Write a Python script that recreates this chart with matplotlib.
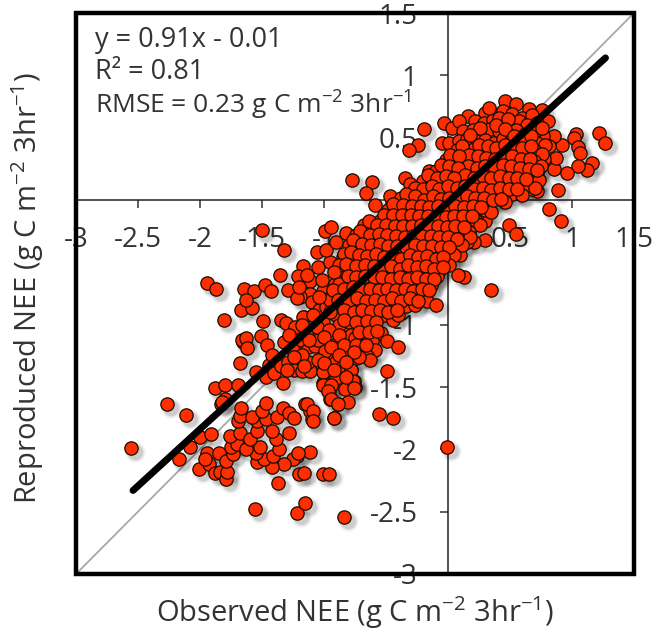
import matplotlib
matplotlib.use("Agg")
import matplotlib.pyplot as plt
from matplotlib.transforms import ScaledTranslation
from matplotlib.patches import Rectangle

plt.rcParams['font.family'] = ['Open Sans', 'DejaVu Sans']
plt.rcParams['axes.unicode_minus'] = False
plt.rcParams['mathtext.default'] = 'regular'

x_ticks = [-3, -2.5, -2, -1.5, -1, -0.5, 0, 0.5, 1, 1.5]
x_tick_labels = ['-3', '-2.5', '-2', '-1.5', '-1', '-0.5', '', '0.5', '1', '1.5']
y_ticks = [-3, -2.5, -2, -1.5, -1, -0.5, 0, 0.5, 1, 1.5]
y_tick_labels = ['-3', '-2.5', '-2', '-1.5', '-1', '-0.5', '', '0.5', '1', '1.5']
fit_x = [-2.54, 1.27]
fit_y = [-2.33, 1.14]
one_to_one = [-3, 1.5]

lower_cluster = [
 (-2.556,-1.99),(-2.266,-1.64),(-2.11,-1.725),(-2.17,-2.08),(-2.08,-1.98),(-2.0,-1.90),(-1.91,-1.88),
 (-2.01,-2.16),(-1.93,-2.12),(-1.94,-2.03),(-1.85,-2.03),(-1.96,-2.08),(-1.88,-2.19),(-1.84,-2.18),
 (-1.79,-2.24),(-1.78,-2.18),(-1.79,-2.09),(-1.73,-2.04),(-1.75,-1.98),(-1.70,-1.96),(-1.76,-1.89),
 (-1.68,-1.87),(-1.69,-1.77),(-1.68,-1.73),(-1.67,-1.67),(-1.56,-2.48),(-1.22,-2.51),(-1.15,-2.43),
 (-0.84,-2.54),(-1.375,-2.27),(-1.20,-2.20),(-1.16,-2.19),(-1.01,-2.20),(-0.96,-2.20),(-1.11,-2.02),
 (-1.22,-2.05),(-1.25,-2.08),(-1.32,-2.12),(-1.21,-2.03),(-1.42,-2.14),(-1.54,-2.10),(-1.48,-2.08),
 (-1.41,-2.05),(-1.36,-2.0),(-1.55,-2.03),(-1.52,-1.98),(-1.63,-2.0),(-1.60,-1.92),(-1.39,-1.92),
 (-1.42,-1.85),(-1.28,-1.87),(-1.54,-1.85),(-1.54,-1.77),(-1.58,-1.74),(-1.47,-1.76),(-1.50,-1.69),
 (-1.47,-1.63),(-1.38,-1.74),(-1.33,-1.67),(-1.28,-1.71),(-1.24,-1.75),(-1.15,-1.64),(-1.11,-1.69),
 (-1.10,-1.76),(-0.92,-1.75),
]
mid_left = [
 (-1.83,-1.64),(-1.80,-1.60),(-1.82,-1.62),(-1.88,-1.51),(-1.80,-1.48),(-1.69,-1.48),(-1.68,-1.31),
 (-1.55,-1.38),(-1.47,-1.42),(-1.44,-1.32),(-1.40,-1.385),(-1.35,-1.33),(-1.33,-1.465),(-1.29,-1.30),
 (-1.24,-1.36),(-1.18,-1.37),(-1.11,-1.37),(-1.13,-1.30),(-1.0,-1.38),(-1.01,-1.47),(-0.96,-1.53),
 (-0.94,-1.48),(-0.95,-1.60),(-0.89,-1.64),(-0.81,-1.62),(-0.78,-1.36),(-0.76,-1.45),(-0.75,-1.50),
 (-1.65,-1.14),(-1.66,-1.12),(-1.63,-1.11),(-1.62,-1.19),(-1.51,-1.09),(-1.46,-1.16),(-1.81,-0.96),
 (-1.67,-0.88),(-1.58,-0.87),(-1.49,-0.97),(-1.35,-0.965),(-1.31,-0.99),(-1.32,-1.14),(-1.23,-1.02),
 (-1.16,-0.94),(-1.07,-1.09),(-1.13,-1.18),(-1.07,-1.17),(-0.96,-1.24),(-0.90,-1.30),(-0.99,-1.21),
 (-1.5,-0.24),(-1.32,-0.40),(-1.355,-0.60),(-1.94,-0.665),(-1.87,-0.715),(-1.645,-0.71),(-1.565,-0.73),
 (-1.476,-0.68),(-1.43,-0.73),(-1.29,-0.72),(-1.06,-0.42),(-0.99,-0.25),(-0.94,-0.22),(-1.17,-0.53),
 (-1.05,-0.54),(-1.21,-0.61),(-1.11,-0.65),(-1.01,-0.73),(-1.11,-0.755),(-1.19,-0.78),(-0.82,-0.265),
 (-0.83,-0.585),(-0.85,-0.46),(-1.63,-0.80),(-1.22,-0.79),
 (-1.17,-0.94),(-1.10,-0.82),(-1.04,-0.88),(-1.20,-0.70),(-1.14,-0.60),(-1.02,-0.64),(-0.95,-0.50),
 (-0.98,-0.40),(-0.90,-0.34),(-0.91,-0.67),(-0.94,-0.78),(-0.86,-0.72),(-0.98,-0.86),(-0.90,-0.92),
 (-1.01,-0.98),(-1.14,-1.04),(-1.20,-1.12),(-1.25,-1.20),(-1.18,-1.24),(-1.05,-1.28),(-1.42,-1.24),
 (-0.85,-1.10),(-0.88,-1.00),(-0.92,-1.16),(-0.84,-1.24),(-0.80,-0.98),(-0.78,-1.08),
]
upper_right = [
 (.46,.795),(.55,.773),(.65,.727),(.76,.72),(.81,.63),(1.22,.535),(1.27,.46),(1.03,.527),(1.02,.50),
 (.92,.44),(1.05,.425),(1.065,.375),(1.16,.295),(1.12,.24),(1.05,.275),(.96,.22),(.855,.245),(.855,.514),
 (.77,.514),(.815,.43),(.87,.34),(.775,.33),(.72,.22),(.53,.15),(.65,.35),(.89,.08),(.72,.07),(.675,.085),
 (.58,.06),(.815,-.07),(.91,-.17),(.49,-.20),(.55,-.27),(.30,-.17),(.30,-.32),(.35,-.72),(.13,-.615),
 (.08,-.60),(.10,-.44),(.016,-.46),(.21,-.335),(.15,-.335),(-.19,.567),(-.24,.44),(-.315,.40),(-.03,.62),
 (.035,.58),(.16,.67),(.09,.63),(-.045,.455),(.01,.46),(-.15,.23),(-.35,.18),(-.61,.145),(-.66,.06),
 (-.777,.16),(-.47,.03),(-.585,-.04),
]
dense_top = [
 (.30,.70),(.38,.68),(.44,.71),(.52,.69),(.60,.66),(.68,.68),(.22,.63),(.29,.62),(.36,.64),(.43,.62),(.50,.60),
 (.57,.63),(.64,.60),(.72,.62),(.12,.55),(.20,.56),(.27,.54),(.34,.57),(.41,.55),(.48,.53),(.55,.56),(.62,.53),
 (.70,.55),(.76,.58),(.09,.47),(.15,.49),(.23,.47),(.30,.48),(.37,.46),(.44,.49),(.51,.47),(.58,.45),(.65,.48),
 (.72,.46),(.78,.44),(.07,.40),(.14,.38),(.21,.41),(.28,.39),(.35,.37),(.42,.41),(.49,.38),(.56,.40),(.63,.37),
 (.70,.39),(.76,.37),(-.02,.32),(.06,.30),(.13,.33),(.20,.31),(.27,.29),(.34,.32),(.41,.30),(.48,.33),(.55,.30),
 (.62,.28),(.69,.31),(.75,.27),(-.10,.23),(-.03,.25),(.04,.22),(.11,.24),(.18,.21),(.25,.23),(.32,.25),(.39,.22),
 (.46,.24),(.53,.21),(.60,.23),(.67,.20),(.73,.16),(-.20,.15),(-.13,.16),(-.06,.13),(.01,.16),(.08,.14),(.15,.17),
 (.22,.13),(.29,.15),(.36,.12),(.43,.16),(.50,.13),(.57,.15),(.64,.12),(.70,.10),
]
dense_mid = [
 (-.31,.13),(-.25,.07),(-.18,.05),(-.11,.08),(-.04,.05),(.03,.07),(.10,.04),(.17,.08),(.24,.05),(.31,.07),(.38,.04),
 (.45,.07),(.52,.05),(.60,.04),(-.38,.02),(-.30,-.01),(-.23,.00),(-.16,-.02),(-.09,.01),(-.02,-.03),(.05,.00),(.12,-.02),
 (.19,.01),(.26,-.03),(.33,-.01),(.40,.02),(.46,-.02),(-.48,-.08),(-.40,-.06),(-.33,-.09),(-.26,-.07),(-.19,-.10),(-.12,-.08),
 (-.05,-.11),(.02,-.07),(.09,-.10),(.16,-.08),(.23,-.11),(.30,-.08),(.35,-.10),(-.55,-.17),(-.48,-.15),(-.41,-.18),(-.34,-.14),
 (-.27,-.17),(-.20,-.15),(-.13,-.18),(-.06,-.16),(.01,-.19),(.08,-.15),(.15,-.18),(.22,-.16),(.26,-.20),(-.68,-.20),(-.60,-.25),
 (-.53,-.23),(-.46,-.26),(-.39,-.24),(-.32,-.27),(-.25,-.23),(-.18,-.26),(-.11,-.24),(-.04,-.27),(.03,-.25),(.10,-.28),(.17,-.26),
 (.18,-.30),(-.74,-.28),(-.66,-.31),(-.59,-.33),(-.52,-.30),(-.45,-.34),(-.38,-.32),(-.31,-.35),(-.24,-.31),(-.17,-.34),(-.10,-.32),
 (-.03,-.35),(.04,-.33),(.11,-.36),(-.80,-.36),(-.72,-.39),(-.65,-.41),(-.58,-.38),(-.51,-.42),(-.44,-.40),(-.37,-.43),(-.30,-.39),
 (-.23,-.42),(-.16,-.40),(-.09,-.43),(-.02,-.41),(.05,-.44),(-.76,-.47),(-.69,-.49),(-.62,-.46),(-.55,-.50),(-.48,-.48),(-.41,-.51),
 (-.34,-.47),(-.27,-.50),(-.20,-.48),(-.13,-.51),(-.06,-.49),(.01,-.52),(-.78,-.56),(-.71,-.58),(-.64,-.55),(-.57,-.59),(-.50,-.57),
 (-.43,-.60),(-.36,-.56),(-.29,-.59),(-.22,-.57),(-.15,-.60),(-.08,-.58),(-.09,-.61),(-.85,-.60),
]
dense_low = [
 (-.84,-.66),(-.77,-.65),(-.70,-.68),(-.63,-.64),(-.56,-.67),(-.49,-.65),(-.42,-.68),(-.35,-.66),(-.28,-.69),(-.21,-.65),(-.14,-.68),
 (-.80,-.75),(-.73,-.73),(-.66,-.76),(-.59,-.74),(-.52,-.77),(-.45,-.73),(-.38,-.76),(-.31,-.74),(-.24,-.77),(-.21,-.76),(-.33,-.76),
 (-.76,-.84),(-.69,-.82),(-.62,-.85),(-.55,-.83),(-.48,-.86),(-.41,-.82),(-.34,-.85),(-.27,-.84),(-.17,-.81),(-.10,-.84),
 (-.72,-.93),(-.65,-.91),(-.58,-.94),(-.51,-.92),(-.44,-.96),(-.40,-.92),
 (-.68,-1.02),(-.61,-1.00),(-.54,-1.07),(-.75,-1.11),(-.64,-1.12),(-.61,-1.13),(-.49,-1.13),
 (-.70,-1.19),(-.72,-1.20),(-.59,-1.20),(-.40,-1.18),(-.65,-1.25),(-.63,-1.28),(-.74,-1.27),
 (-.80,-1.20),(-.72,-1.26),(-.86,-1.35),(-.90,-1.43),(-.83,-1.52),
 (-.49,-1.37),(-.78,-1.36),(-.77,-1.45),(-.76,-1.51),(-1.01,-1.38),(-1.01,-1.48),(-.94,-1.48),(-.97,-1.53),
 (-.94,-1.60),(-.89,-1.64),(-1.14,-1.64),(-1.09,-1.69),(-1.09,-1.77),(-.92,-1.75),
 (-.01,-1.98),(-.56,-1.72),(-.44,-1.75),(-.95,-.80),(-1.05,-1.12),
]
dense_fill = [
 (.33,.74),(.41,.66),(.48,.65),(.26,.58),(.39,.60),(.46,.57),(.53,.51),(.60,.50),(.67,.51),(.18,.52),(.25,.44),(.32,.43),(.39,.42),
 (.46,.44),(.53,.43),(.60,.42),(.67,.43),(.11,.43),(.17,.36),(.24,.35),(.31,.34),(.38,.33),(.45,.35),(.52,.35),(.59,.33),(.66,.33),
 (.02,.36),(.09,.35),(.16,.27),(.23,.26),(.30,.27),(.37,.27),(.44,.28),(.51,.27),(.58,.26),(.65,.25),(.72,.24),(-.06,.28),(.01,.27),
 (.08,.26),(.14,.20),(.21,.18),(.28,.19),(.35,.18),(.42,.19),(.49,.18),(.56,.18),(.63,.17),(-.16,.20),(-.09,.18),(-.02,.19),(.05,.18),
 (-.27,.10),(-.20,.09),(-.13,.11),(-.07,.09),(.00,.11),(.07,.10),(.14,.11),(.21,.09),(.28,.10),(.35,.08),(.42,.10),(.49,.09),(.56,.09),
 (-.34,.05),(-.27,.03),(-.19,.00),(-.12,.03),(-.06,.01),(.01,.02),(.08,.02),(.15,.03),(.22,.02),(.29,.02),(.36,.00),(.43,.01),
 (-.44,-.03),(-.36,-.04),(-.29,-.05),(-.22,-.05),(-.15,-.06),(-.08,-.05),(-.01,-.06),(.06,-.05),(.13,-.06),(.20,-.05),(.27,-.06),
 (-.52,-.12),(-.44,-.12),(-.37,-.12),(-.30,-.12),(-.23,-.13),(-.16,-.13),(-.09,-.13),(-.02,-.14),(.05,-.13),(.12,-.13),(.19,-.13),
 (-.64,-.17),(-.57,-.20),(-.50,-.20),(-.43,-.21),(-.36,-.21),(-.29,-.21),(-.22,-.20),(-.15,-.21),(-.08,-.21),(-.01,-.22),(.06,-.21),(.13,-.22),
 (-.71,-.25),(-.63,-.28),(-.56,-.27),(-.49,-.28),(-.42,-.29),(-.35,-.30),(-.28,-.29),(-.21,-.29),(-.14,-.29),(-.07,-.30),(.00,-.30),(.07,-.31),
 (-.77,-.32),(-.69,-.35),(-.62,-.36),(-.55,-.35),(-.48,-.37),(-.41,-.37),(-.34,-.38),(-.27,-.36),(-.20,-.37),(-.13,-.37),(-.06,-.38),(.01,-.38),
 (-.84,-.43),(-.78,-.42),(-.72,-.44),(-.65,-.45),(-.58,-.43),(-.52,-.46),(-.45,-.45),(-.38,-.47),(-.31,-.44),(-.24,-.46),(-.17,-.45),(-.10,-.47),(-.04,-.46),
 (-.88,-.52),(-.82,-.51),(-.74,-.53),(-.67,-.52),(-.60,-.53),(-.53,-.54),(-.46,-.53),(-.39,-.55),(-.32,-.52),(-.25,-.54),(-.18,-.53),(-.11,-.55),(-.04,-.54),
 (-.92,-.58),(-.88,-.67),(-.81,-.61),(-.74,-.62),(-.67,-.61),(-.60,-.62),(-.53,-.62),(-.46,-.63),(-.39,-.62),(-.32,-.63),(-.25,-.62),(-.18,-.63),(-.11,-.63),
 (-.93,-.72),(-.84,-.71),(-.77,-.70),(-.70,-.72),(-.63,-.71),(-.56,-.72),(-.49,-.71),(-.42,-.72),(-.35,-.71),(-.28,-.73),(-.21,-.71),(-.15,-.72),
 (-1.04,-.78),(-.89,-.80),(-.80,-.80),(-.73,-.79),(-.66,-.81),(-.59,-.80),(-.52,-.81),(-.45,-.79),(-.38,-.81),(-.31,-.79),(-.24,-.81),
 (-1.09,-.92),(-.95,-.90),(-.84,-.88),(-.76,-.90),(-.69,-.88),(-.62,-.89),(-.55,-.88),(-.48,-.90),(-.41,-.88),
 (-1.18,-1.00),(-1.06,-1.02),(-.96,-1.04),(-.84,-.96),(-.74,-.98),(-.65,-.97),(-.58,-.98),
 (-1.28,-1.08),(-1.12,-1.12),(-1.00,-1.10),(-.88,-1.08),(-.72,-1.06),(-.64,-1.06),(-.57,-1.05),
 (-1.24,-1.26),(-.94,-1.18),(-.84,-1.16),(-.74,-1.16),(-.66,-1.16),
 (-1.16,-1.33),(-1.00,-1.31),(-.88,-1.24),(-.76,-1.22),
 (-1.30,-1.36),(-.92,-1.36),(-.82,-1.30),(-.82,-1.42),
]
points = lower_cluster + mid_left + upper_right + dense_top + dense_mid + dense_low + dense_fill
observed = [p[0] for p in points]
reproduced = [p[1] for p in points]

fig = plt.figure(figsize=(6.54, 6.36), dpi=100)
ax = fig.add_axes([76/654, 1-574/636, (634-76)/654, (574-13)/636])
ax.set_xlim(-3, 1.5)
ax.set_ylim(-3, 1.5)
ax.set_axisbelow(True)

for s in ('top', 'right'):
    ax.spines[s].set_visible(False)
for s in ('left', 'bottom'):
    ax.spines[s].set_position(('data', 0))
    ax.spines[s].set_linewidth(1.1)
    ax.spines[s].set_color('#222222')
    ax.spines[s].set_zorder(0.6)

ax.set_xticks(x_ticks, x_tick_labels)
ax.set_yticks(y_ticks, y_tick_labels)
ax.tick_params(axis='x', direction='out', length=6, width=1.1, color='#333333',
               labelsize=20, labelcolor='#333333', pad=13)
ax.tick_params(axis='y', direction='out', length=6, width=1.1, color='#333333',
               labelsize=20, labelcolor='#333333', pad=16)

ax.plot(one_to_one, one_to_one, color='#a8a8a8', lw=1.3, zorder=1, clip_on=False)

for off, size, alpha in ((4, 230, 0.03), (4, 185, 0.04), (4, 145, 0.06), (4, 115, 0.08)):
    tr = ax.transData + ScaledTranslation(off/100, -off/100, fig.dpi_scale_trans)
    ax.scatter(observed, reproduced, s=size, c='#000000', alpha=alpha, lw=0, transform=tr, zorder=1.5)

ax.scatter(observed, reproduced, s=92, c='#ff2e00', edgecolors='#1a0a00', linewidths=0.9, zorder=2)
ax.plot(fit_x, fit_y, color='black', lw=5, solid_capstyle='round', zorder=3)

ax.add_patch(Rectangle((0, 0), 1, 1, transform=ax.transAxes, fill=False, ec='black',
                       lw=3.2, zorder=5, clip_on=False, joinstyle='miter'))

def put(px, py, s, size):
    fig.text(px/654, 1-py/636, s, fontsize=size, color='#333333', va='center', ha='left')
put(95, 40, 'y = 0.91x - 0.01', 19.5)
put(95, 72, 'R² = 0.81', 19.5)
put(95, 105, 'RMSE = 0.23 g C m$^{-2}$ 3hr$^{-1}$', 19)

fig.text(355/654, 1-613/636, 'Observed NEE (g C m$^{-2}$ 3hr$^{-1}$)', fontsize=21, color='#333333',
         ha='center', va='center')
fig.text(28/654, 1-288/636, 'Reproduced NEE (g C m$^{-2}$ 3hr$^{-1}$)', fontsize=21, color='#333333',
         ha='center', va='center', rotation=90)

fig.savefig('out.png', dpi=100)
